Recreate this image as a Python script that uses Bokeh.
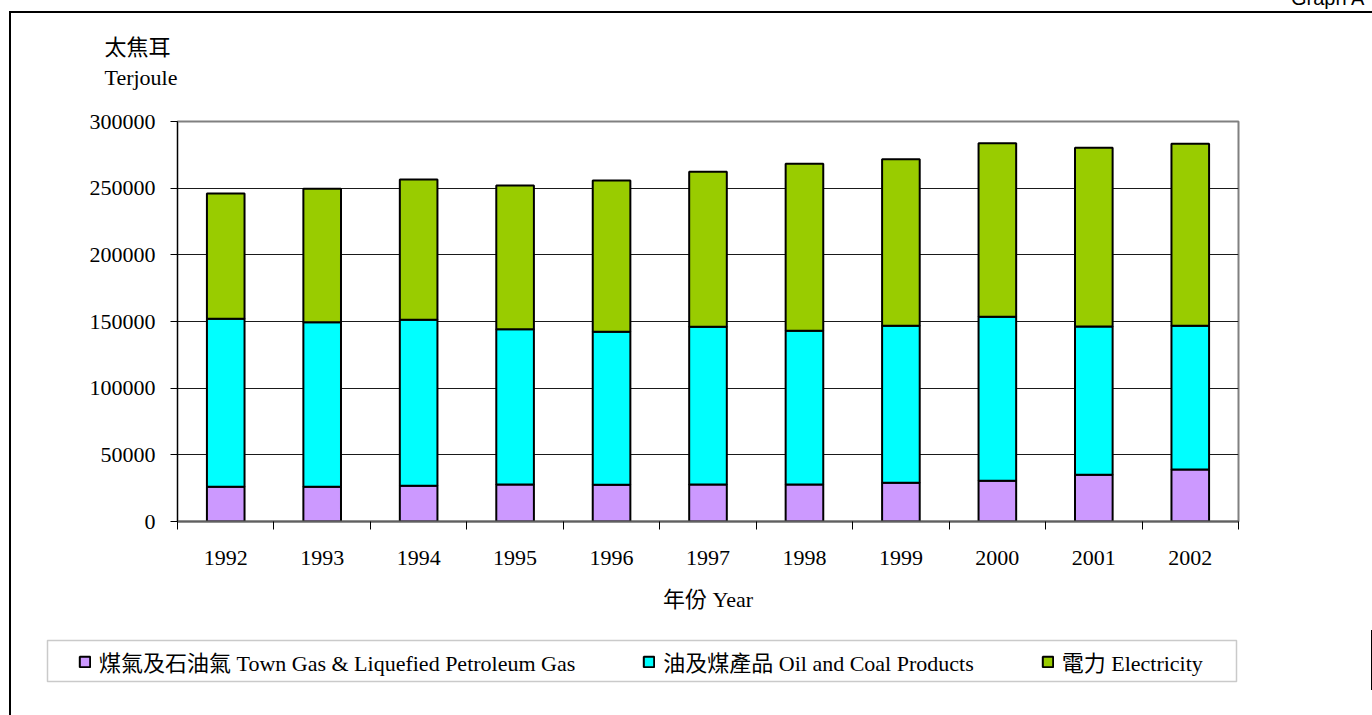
from bokeh.plotting import figure
from bokeh.models import (Range1d, FixedTicker, Legend, LegendItem, ColumnDataSource,
                          BasicTickFormatter, Title, Div, BoxAnnotation)
from bokeh.core.properties import value
from bokeh.embed import file_html
from bokeh.resources import INLINE

years = [1992, 1993, 1994, 1995, 1996, 1997, 1998, 1999, 2000, 2001, 2002]
gas = [26000, 26000, 26750, 27750, 27500, 27750, 27750, 29000, 30500, 35000, 39000]
oil = [126000, 123500, 124500, 116500, 114750, 118250, 115250, 117750, 123000, 111250, 107750]
elec = [94000, 100000, 105250, 107750, 113500, 116250, 125250, 125000, 130250, 134000, 136500]
series_names = ["煤氣及石油氣 Town Gas & Liquefied Petroleum Gas",
                "油及煤產品 Oil and Coal Products",
                "電力 Electricity"]
colors = ["#CC99FF", "#00FFFF", "#99CC00"]
yticks = [0, 50000, 100000, 150000, 200000, 250000, 300000]
y_title = "太焦耳\nTerjoule"
x_title = "年份 Year"
corner_text = "Graph A"

FONT = "'Liberation Serif', 'Noto Sans CJK TC'"
FS = "22px"

frame_css = ("linear-gradient(#000,#000) 9px 11px / 2px calc(100% - 11px) no-repeat, "
             "linear-gradient(#000,#000) 9px 11px / calc(100% - 9px) 2px no-repeat")

src = ColumnDataSource(dict(year=years, gas=gas, oil=oil, elec=elec))

# ---------------- main chart ----------------
p = figure(width=1372, height=715, output_backend="svg", toolbar_location=None,
           x_range=Range1d(years[0] - 0.5, years[-1] + 0.5), y_range=Range1d(0, 300000),
           frame_width=1061, frame_height=400,
           min_border_left=177, min_border_right=1372 - 1238,
           min_border_top=121, min_border_bottom=715 - 521, title=None,
           styles={"background": frame_css})
p.background_fill_color = "white"
p.border_fill_alpha = 0
p.outline_line_color = "#808080"
p.outline_line_width = 2

ttl = Title(text=y_title, align="left", offset=-73,
            text_font=FONT, text_font_size=FS, text_font_style="normal",
            text_color="black")
if "text_line_height" in Title.properties():
    ttl.text_line_height = 1.22
    ttl.standoff = 63
else:
    ttl.standoff = 69
p.add_layout(ttl, "above")

rs = p.vbar_stack(["gas", "oil", "elec"], x="year", width=0.39, source=src,
                  fill_color=colors, line_color="black", line_width=2)

xt = FixedTicker(ticks=years, minor_ticks=[y - 0.5 for y in years] + [years[-1] + 0.5])
p.xaxis.ticker = xt
p.xaxis.major_label_overrides = {y: str(y) for y in years}
p.xaxis.major_tick_line_color = None
p.xaxis.major_tick_out = 8
p.xaxis.major_tick_in = 0
p.xaxis.minor_tick_out = 8
p.xaxis.minor_tick_in = 0
p.xaxis.minor_tick_line_color = "black"
p.xaxis.minor_tick_line_width = 1
p.xaxis.axis_line_color = "#606060"
p.xaxis.axis_line_width = 2
p.xaxis.major_label_standoff = 21
p.xaxis.major_label_text_font = FONT
p.xaxis.major_label_text_font_size = FS
p.xaxis.major_label_text_color = "black"
p.xaxis.axis_label = x_title
p.xaxis.axis_label_text_font = FONT
p.xaxis.axis_label_text_font_size = FS
p.xaxis.axis_label_text_font_style = "normal"
p.xaxis.axis_label_text_color = "black"
p.xaxis.axis_label_standoff = 19

yt = FixedTicker(ticks=yticks)
p.yaxis.ticker = yt
p.yaxis.formatter = BasicTickFormatter(use_scientific=False)
p.yaxis.major_tick_out = 7
p.yaxis.major_tick_in = 0
p.yaxis.major_tick_line_color = "black"
p.yaxis.minor_tick_line_color = None
p.yaxis.axis_line_color = "black"
p.yaxis.axis_line_width = 1
p.yaxis.major_label_standoff = 15
p.yaxis.major_label_text_font = FONT
p.yaxis.major_label_text_font_size = FS
p.yaxis.major_label_text_color = "black"

p.xgrid.visible = False
p.ygrid.ticker = yt
p.ygrid.grid_line_color = "#1a1a1a"
p.ygrid.grid_line_width = 1

# ---------------- legend strip (own canvas, laid over the chart) ----------------
LH = 60
lp = figure(width=1372, height=LH, output_backend="svg", toolbar_location=None,
            x_range=Range1d(0, 1), y_range=Range1d(0, 1), title=None,
            min_border=0, min_border_left=0, min_border_right=0,
            min_border_top=0, min_border_bottom=0,
            x_axis_location=None, y_axis_location=None,
            styles={"position": "absolute", "left": "0px", "top": "630px"})
lp.grid.visible = False
lp.outline_line_color = None
lp.background_fill_alpha = 0
lp.border_fill_alpha = 0
lrs = lp.vbar_stack(["gas", "oil", "elec"], x="year", width=0.39, source=src,
                    fill_color=colors, line_color="black", line_width=2)

lp.add_layout(BoxAnnotation(left=47, right=1236, top=LH - 10, bottom=LH - 51,
                            left_units="screen", right_units="screen",
                            top_units="screen", bottom_units="screen",
                            fill_color="white", fill_alpha=1,
                            line_color="#505050", line_width=1.5))
legend = Legend(items=[LegendItem(label=value(n), renderers=[r]) for n, r in zip(series_names, lrs)],
                orientation="horizontal", location=(74, LH - 51), margin=0,
                padding=4, spacing=67, glyph_width=13, glyph_height=13,
                label_standoff=8,
                label_text_font=FONT, label_text_font_size=FS, label_text_color="black",
                border_line_alpha=0, background_fill_alpha=0)
lp.add_layout(legend)

corner = Div(text=corner_text, width=120, height=20, margin=(0, 0, 0, 0),
             styles={"position": "absolute", "left": "1291px", "top": "-12px",
                     "font-family": "'Liberation Sans'", "font-size": "20px",
                     "line-height": "20px", "white-space": "nowrap", "color": "#000"})

open("out.html", "w").write(file_html([corner, lp, p], INLINE))
